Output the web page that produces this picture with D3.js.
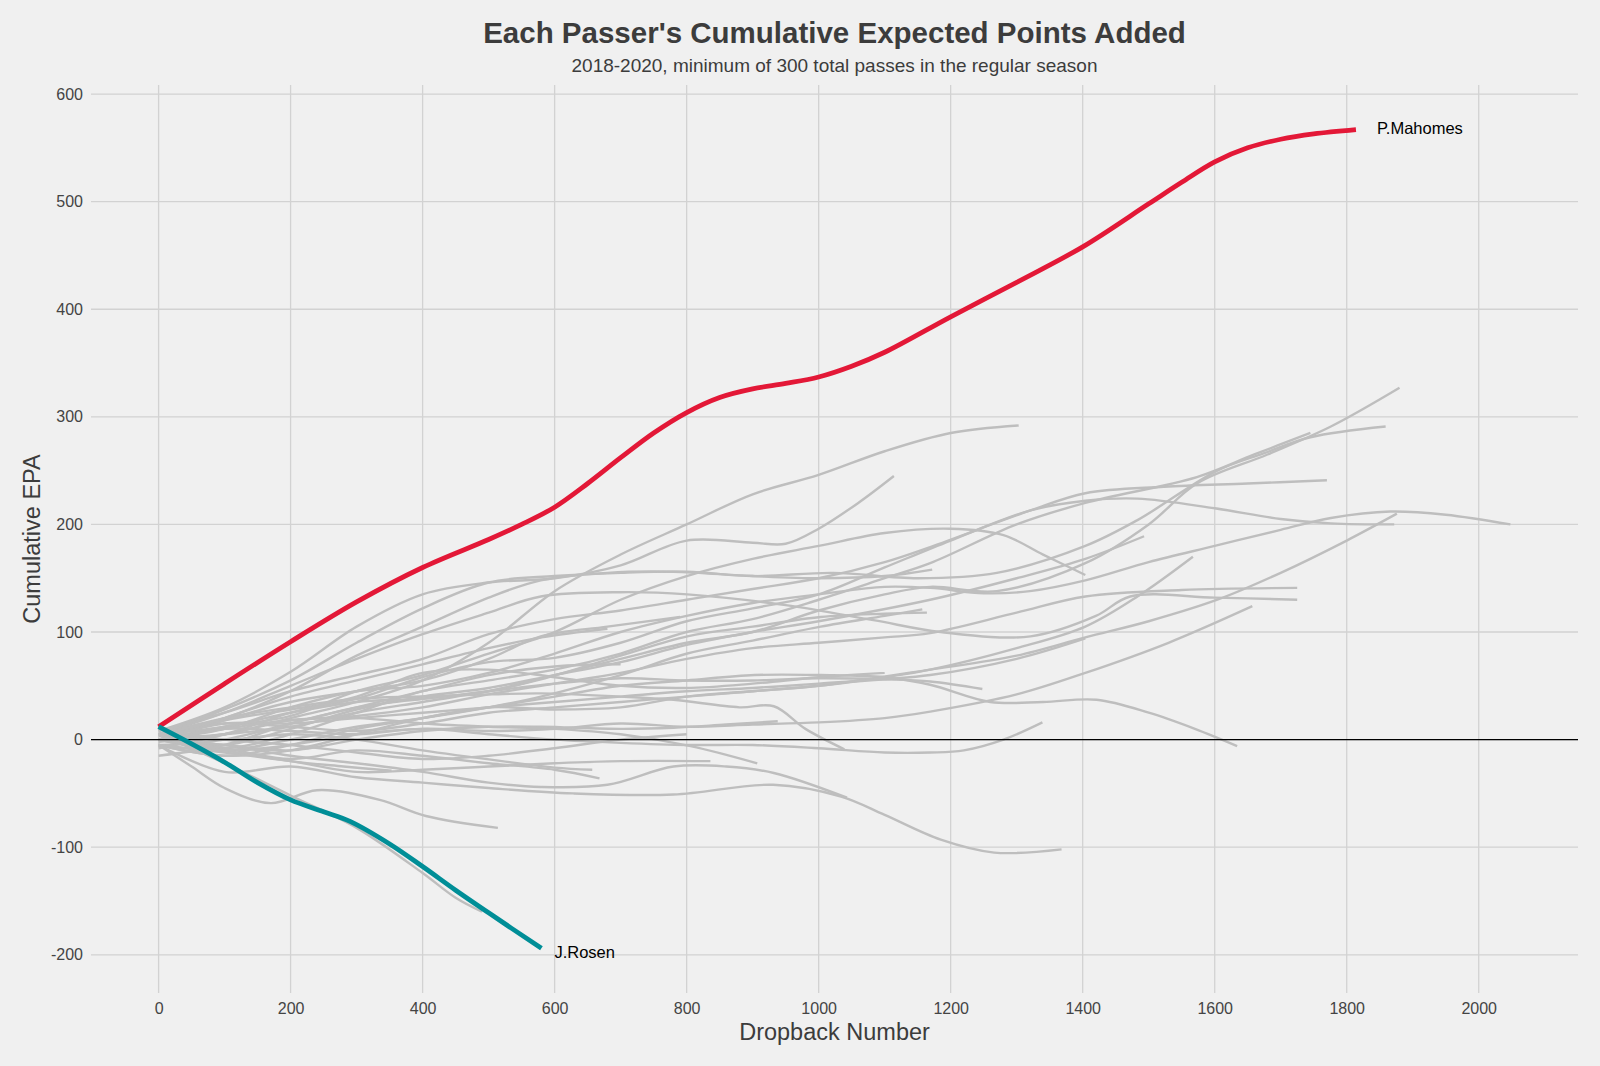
<html>
<head>
<meta charset="utf-8"/>
<title>Each Passer's Cumulative Expected Points Added</title>
<script src="https://cdn.jsdelivr.net/npm/d3@7"></script>
<style>
  body { margin: 0; background: #f0f0f0; }
  svg text { font-family: "Liberation Sans", Arial, Helvetica, sans-serif; }
  .tick text { fill: #444; font-size: 16px; }
</style>
</head>
<body>
<div id="chart"></div>
<script>
// tick values
var dropbackTicks = [0, 200, 400, 600, 800, 1000, 1200, 1400, 1600, 1800, 2000];
var epaTicks = [-200, -100, 0, 100, 200, 300, 400, 500, 600];

// highlighted passers
var mahomesDropbacks = [0, 100, 200, 300, 400, 500, 550, 600, 650, 700, 750, 800, 850, 900, 950, 1000, 1050, 1100, 1200, 1300, 1400, 1500, 1550, 1600, 1650, 1700, 1750, 1814];
var mahomesEPA =       [12, 52, 91, 128, 160, 186, 200, 216, 238, 262, 285, 304, 318, 326, 331, 337, 347, 360, 393, 425, 458, 498, 518, 537, 550, 558, 563, 567];
var rosenDropbacks = [0, 50, 100, 150, 200, 250, 290, 350, 400, 450, 500, 580];
var rosenEPA =       [12, -4, -21, -40, -56, -67, -76, -97, -118, -140, -161, -194];
var highlightNames = ["P.Mahomes", "J.Rosen"];

// every other passer: [dropback, cumulative EPA]
var otherPassers = [
  [[0,0],[100,5],[200,20],[300,35],[400,55],[500,90],[600,138],[700,172],[800,200],[900,228],[1000,246],[1100,268],[1200,285],[1303,292]],
  [[0,8],[100,30],[200,63],[300,105],[400,135],[500,146],[600,150],[700,162],[800,185],[900,183],[950,182],[1000,196],[1060,220],[1114,245]],
  [[0,-5],[100,-15],[200,-5],[300,10],[400,20],[500,30],[600,28],[700,30],[800,40],[900,45],[1000,50],[1169,65],[1300,78],[1404,95],[1500,110],[1604,130],[1700,155],[1800,185],[1876,210]],
  [[0,0],[100,10],[200,30],[300,45],[400,50],[500,62],[600,80],[700,100],[800,115],[900,127],[1000,135],[1100,142],[1169,141],[1250,136],[1320,138],[1404,148],[1500,165],[1600,180],[1700,195],[1776,206],[1866,212],[1950,209],[2048,200]],
  [[0,3],[100,18],[200,28],[300,38],[400,58],[500,72],[600,76],[700,90],[800,110],[900,122],[1000,135],[1100,160],[1200,185],[1321,213],[1404,222],[1483,224],[1600,215],[1700,205],[1776,201],[1872,200]],
  [[0,0],[100,-8],[200,5],[300,25],[400,45],[500,55],[600,65],[700,80],[800,100],[900,112],[1000,130],[1100,150],[1169,164],[1300,200],[1404,220],[1573,244],[1660,265],[1745,285]],
  [[0,5],[100,28],[200,55],[300,90],[400,122],[500,146],[600,152],[700,155],[801,156],[900,152],[1022,155],[1150,150],[1270,155],[1404,180],[1483,204],[1604,250],[1674,266],[1745,281],[1859,291]],
  [[0,-5],[100,0],[200,15],[300,30],[400,38],[500,45],[600,60],[700,75],[800,90],[900,100],[1000,120],[1100,135],[1169,142],[1270,138],[1404,164],[1500,200],[1573,238],[1680,265],[1776,291],[1880,327]],
  [[0,8],[100,25],[200,45],[300,60],[400,75],[500,98],[600,112],[700,120],[800,130],[900,140],[1000,150],[1100,165],[1169,179],[1321,213],[1404,229],[1523,235],[1650,238],[1770,241]],
  [[0,0],[100,12],[200,22],[300,45],[400,60],[500,80],[600,100],[700,130],[800,152],[900,168],[1000,180],[1100,192],[1200,196],[1280,190],[1340,172],[1404,153]],
  [[0,0],[100,-5],[200,10],[300,28],[400,40],[500,48],[600,60],[700,72],[800,88],[900,100],[1000,110],[1169,130],[1300,150],[1404,168],[1493,189]],
  [[0,5],[100,15],[200,12],[300,8],[400,15],[500,25],[600,30],[700,35],[800,40],[900,45],[1000,50],[1100,58],[1169,65],[1300,85],[1404,105],[1483,133],[1567,170]],
  [[0,-2],[100,5],[200,18],[300,22],[400,30],[500,42],[600,52],[700,62],[800,75],[900,85],[1000,90],[1100,95],[1169,99],[1300,118],[1404,133],[1550,139],[1725,141]],
  [[0,5],[100,25],[200,50],[300,75],[400,98],[500,118],[579,133],[700,137],[801,135],[950,125],[1083,111],[1185,100],[1321,96],[1420,115],[1472,133],[1600,132],[1725,130]],
  [[0,0],[100,-10],[200,-5],[300,5],[400,10],[500,8],[600,10],[700,15],[800,12],[900,14],[1000,16],[1100,20],[1169,26],[1300,42],[1404,62],[1530,90],[1657,124]],
  [[0,-5],[100,-15],[200,-10],[300,5],[400,20],[500,30],[600,40],[700,50],[800,55],[903,60],[1003,60],[1100,58],[1169,51],[1260,35],[1340,35],[1421,37],[1500,25],[1570,10],[1634,-6]],
  [[0,0],[100,10],[200,8],[300,5],[400,10],[500,5],[600,0],[700,-3],[800,-5],[900,-5],[1000,-8],[1100,-12],[1169,-12],[1220,-10],[1280,0],[1339,16]],
  [[0,5],[100,12],[200,25],[300,35],[400,38],[500,45],[600,52],[700,57],[800,55],[900,55],[1000,57],[1100,56],[1169,54],[1248,47]],
  [[0,-5],[100,-30],[200,-25],[300,-35],[400,-40],[500,-45],[628,-50],[780,-51],[931,-42],[1034,-53],[1100,-70],[1185,-93],[1266,-105],[1368,-102]],
  [[0,0],[100,-5],[200,-15],[300,-22],[400,-30],[500,-40],[579,-44],[680,-42],[780,-25],[860,-25],[932,-31],[1043,-54]],
  [[0,5],[100,20],[200,30],[300,38],[400,40],[500,42],[579,43],[700,40],[780,37],[880,30],[932,31],[980,10],[1039,-9]],
  [[0,0],[100,-5],[200,-10],[300,0],[400,8],[500,12],[579,12],[700,10],[780,11],[860,14],[938,17]],
  [[0,0],[100,10],[200,18],[300,20],[400,15],[500,12],[600,10],[700,5],[806,-6],[907,-22]],
  [[0,-5],[100,-12],[200,-20],[300,-30],[400,-28],[500,-25],[600,-22],[700,-20],[836,-20]],
  [[0,0],[100,18],[200,35],[300,45],[400,55],[500,75],[579,96],[680,105],[790,114]],
  [[0,0],[100,20],[200,40],[300,55],[400,70],[500,85],[580,95],[680,103]],
  [[0,0],[100,-8],[200,-18],[300,-10],[400,-15],[500,-22],[600,-28],[668,-36]],
  [[0,5],[100,0],[200,5],[300,0],[400,-10],[520,-20],[600,-26],[657,-28]],
  [[0,-5],[50,-25],[100,-45],[170,-59],[240,-47],[335,-56],[405,-71],[514,-82]],
  [[0,0],[100,-10],[200,-20],[280,-25],[353,-29]],
  [[0,5],[100,-22],[200,-52],[300,-82],[400,-124],[450,-147],[490,-160]],
  [[0,5],[100,20],[200,45],[300,78],[400,105],[500,132],[579,148],[680,155],[780,156],[900,152],[1000,150],[1100,152],[1172,158]],
  [[0,0],[100,5],[200,12],[300,25],[400,35],[500,45],[579,56],[700,78],[801,96],[900,105],[1003,114],[1100,117],[1164,118]],
  [[0,-5],[100,-10],[200,0],[300,12],[400,20],[500,30],[579,40],[700,60],[801,80],[900,92],[1003,105],[1100,115],[1157,121]],
  [[0,0],[100,15],[200,15],[300,20],[400,25],[500,30],[600,35],[700,40],[800,45],[900,48],[1000,52],[1169,60],[1300,75],[1404,94]],
  [[0,-15],[100,-5],[200,15],[300,30],[400,45],[500,60],[600,68],[700,70]],
  [[0,10],[100,0],[200,-5],[300,-12],[400,-18],[500,-15],[600,-8],[700,0],[800,5]],
  [[0,-8],[100,5],[200,25],[300,40],[400,62],[500,65],[600,58],[700,50],[800,48],[900,52],[1000,58],[1100,62]]
];

var w = 1600;
var h = 1066;

var xScale = d3.scaleLinear().domain([-102.4, 2150.4]).range([91, 1578]);
var yScale = d3.scaleLinear().domain([-235.5, 608.4]).range([993, 85]);

var svg = d3.select("#chart").append("svg")
  .attr("width", w)
  .attr("height", h);

svg.append("rect").attr("width", w).attr("height", h).attr("fill", "#f0f0f0");

// grid
svg.append("g").selectAll("line")
  .data(dropbackTicks)
  .enter().append("line")
  .attr("x1", function(d) { return xScale(d); })
  .attr("x2", function(d) { return xScale(d); })
  .attr("y1", yScale.range()[1])
  .attr("y2", yScale.range()[0])
  .attr("stroke", "#d2d2d2")
  .attr("stroke-width", 1.3);

svg.append("g").selectAll("line")
  .data(epaTicks)
  .enter().append("line")
  .attr("x1", xScale.range()[0])
  .attr("x2", xScale.range()[1])
  .attr("y1", function(d) { return yScale(d); })
  .attr("y2", function(d) { return yScale(d); })
  .attr("stroke", "#d2d2d2")
  .attr("stroke-width", 1.3);

// axes (labels only)
var xAxis = d3.axisBottom(xScale).tickValues(dropbackTicks).tickSize(0).tickPadding(10)
  .tickFormat(function(d) { return String(d); });
var yAxis = d3.axisLeft(yScale).tickValues(epaTicks).tickSize(0).tickPadding(8)
  .tickFormat(function(d) { return String(d); });

svg.append("g")
  .attr("transform", "translate(0," + yScale.range()[0] + ")")
  .call(xAxis)
  .call(function(g) { g.select(".domain").remove(); });

svg.append("g")
  .attr("transform", "translate(" + xScale.range()[0] + ",0)")
  .call(yAxis)
  .call(function(g) { g.select(".domain").remove(); });

var line = d3.line()
  .x(function(d) { return xScale(d[0]); })
  .y(function(d) { return yScale(d[1]); })
  .curve(d3.curveCatmullRom.alpha(0.5));

// gray passers
svg.append("g").selectAll("path")
  .data(otherPassers)
  .enter().append("path")
  .attr("d", line)
  .attr("fill", "none")
  .attr("stroke", "#bebebe")
  .attr("stroke-width", 2.4);

// zero line
svg.append("line")
  .attr("x1", xScale.range()[0])
  .attr("x2", xScale.range()[1])
  .attr("y1", yScale(0))
  .attr("y2", yScale(0))
  .attr("stroke", "#000")
  .attr("stroke-width", 1.4);

var mahomes = d3.zip(mahomesDropbacks, mahomesEPA);
var rosen = d3.zip(rosenDropbacks, rosenEPA);
var highlights = [
  { name: highlightNames[0], pts: mahomes, color: "#e31837", dx: 21, dy: 4 },
  { name: highlightNames[1], pts: rosen, color: "#008e97", dx: 13, dy: 10 }
];

highlights.forEach(function(s) {
  svg.append("path")
    .attr("d", line(s.pts))
    .attr("fill", "none")
    .attr("stroke", s.color)
    .attr("stroke-width", 4.8);
  var last = s.pts[s.pts.length - 1];
  svg.append("text")
    .attr("x", xScale(last[0]) + s.dx)
    .attr("y", yScale(last[1]) + s.dy)
    .attr("font-size", "16.5px")
    .attr("fill", "#000")
    .text(s.name);
});

// titles
var cx = (xScale.range()[0] + xScale.range()[1]) / 2;
svg.append("text")
  .attr("x", cx).attr("y", 43)
  .attr("text-anchor", "middle")
  .attr("font-size", "29.5px").attr("font-weight", "bold").attr("fill", "#3c3c3c")
  .text("Each Passer's Cumulative Expected Points Added");
svg.append("text")
  .attr("x", cx).attr("y", 72)
  .attr("text-anchor", "middle")
  .attr("font-size", "19px").attr("fill", "#3c3c3c")
  .text("2018-2020, minimum of 300 total passes in the regular season");

svg.append("text")
  .attr("x", cx).attr("y", 1040)
  .attr("text-anchor", "middle")
  .attr("font-size", "23.5px").attr("fill", "#3c3c3c")
  .text("Dropback Number");
svg.append("text")
  .attr("transform", "translate(40," + ((yScale.range()[0] + yScale.range()[1]) / 2) + ") rotate(-90)")
  .attr("text-anchor", "middle")
  .attr("font-size", "23.5px").attr("fill", "#3c3c3c")
  .text("Cumulative EPA");
</script>
</body>
</html>
